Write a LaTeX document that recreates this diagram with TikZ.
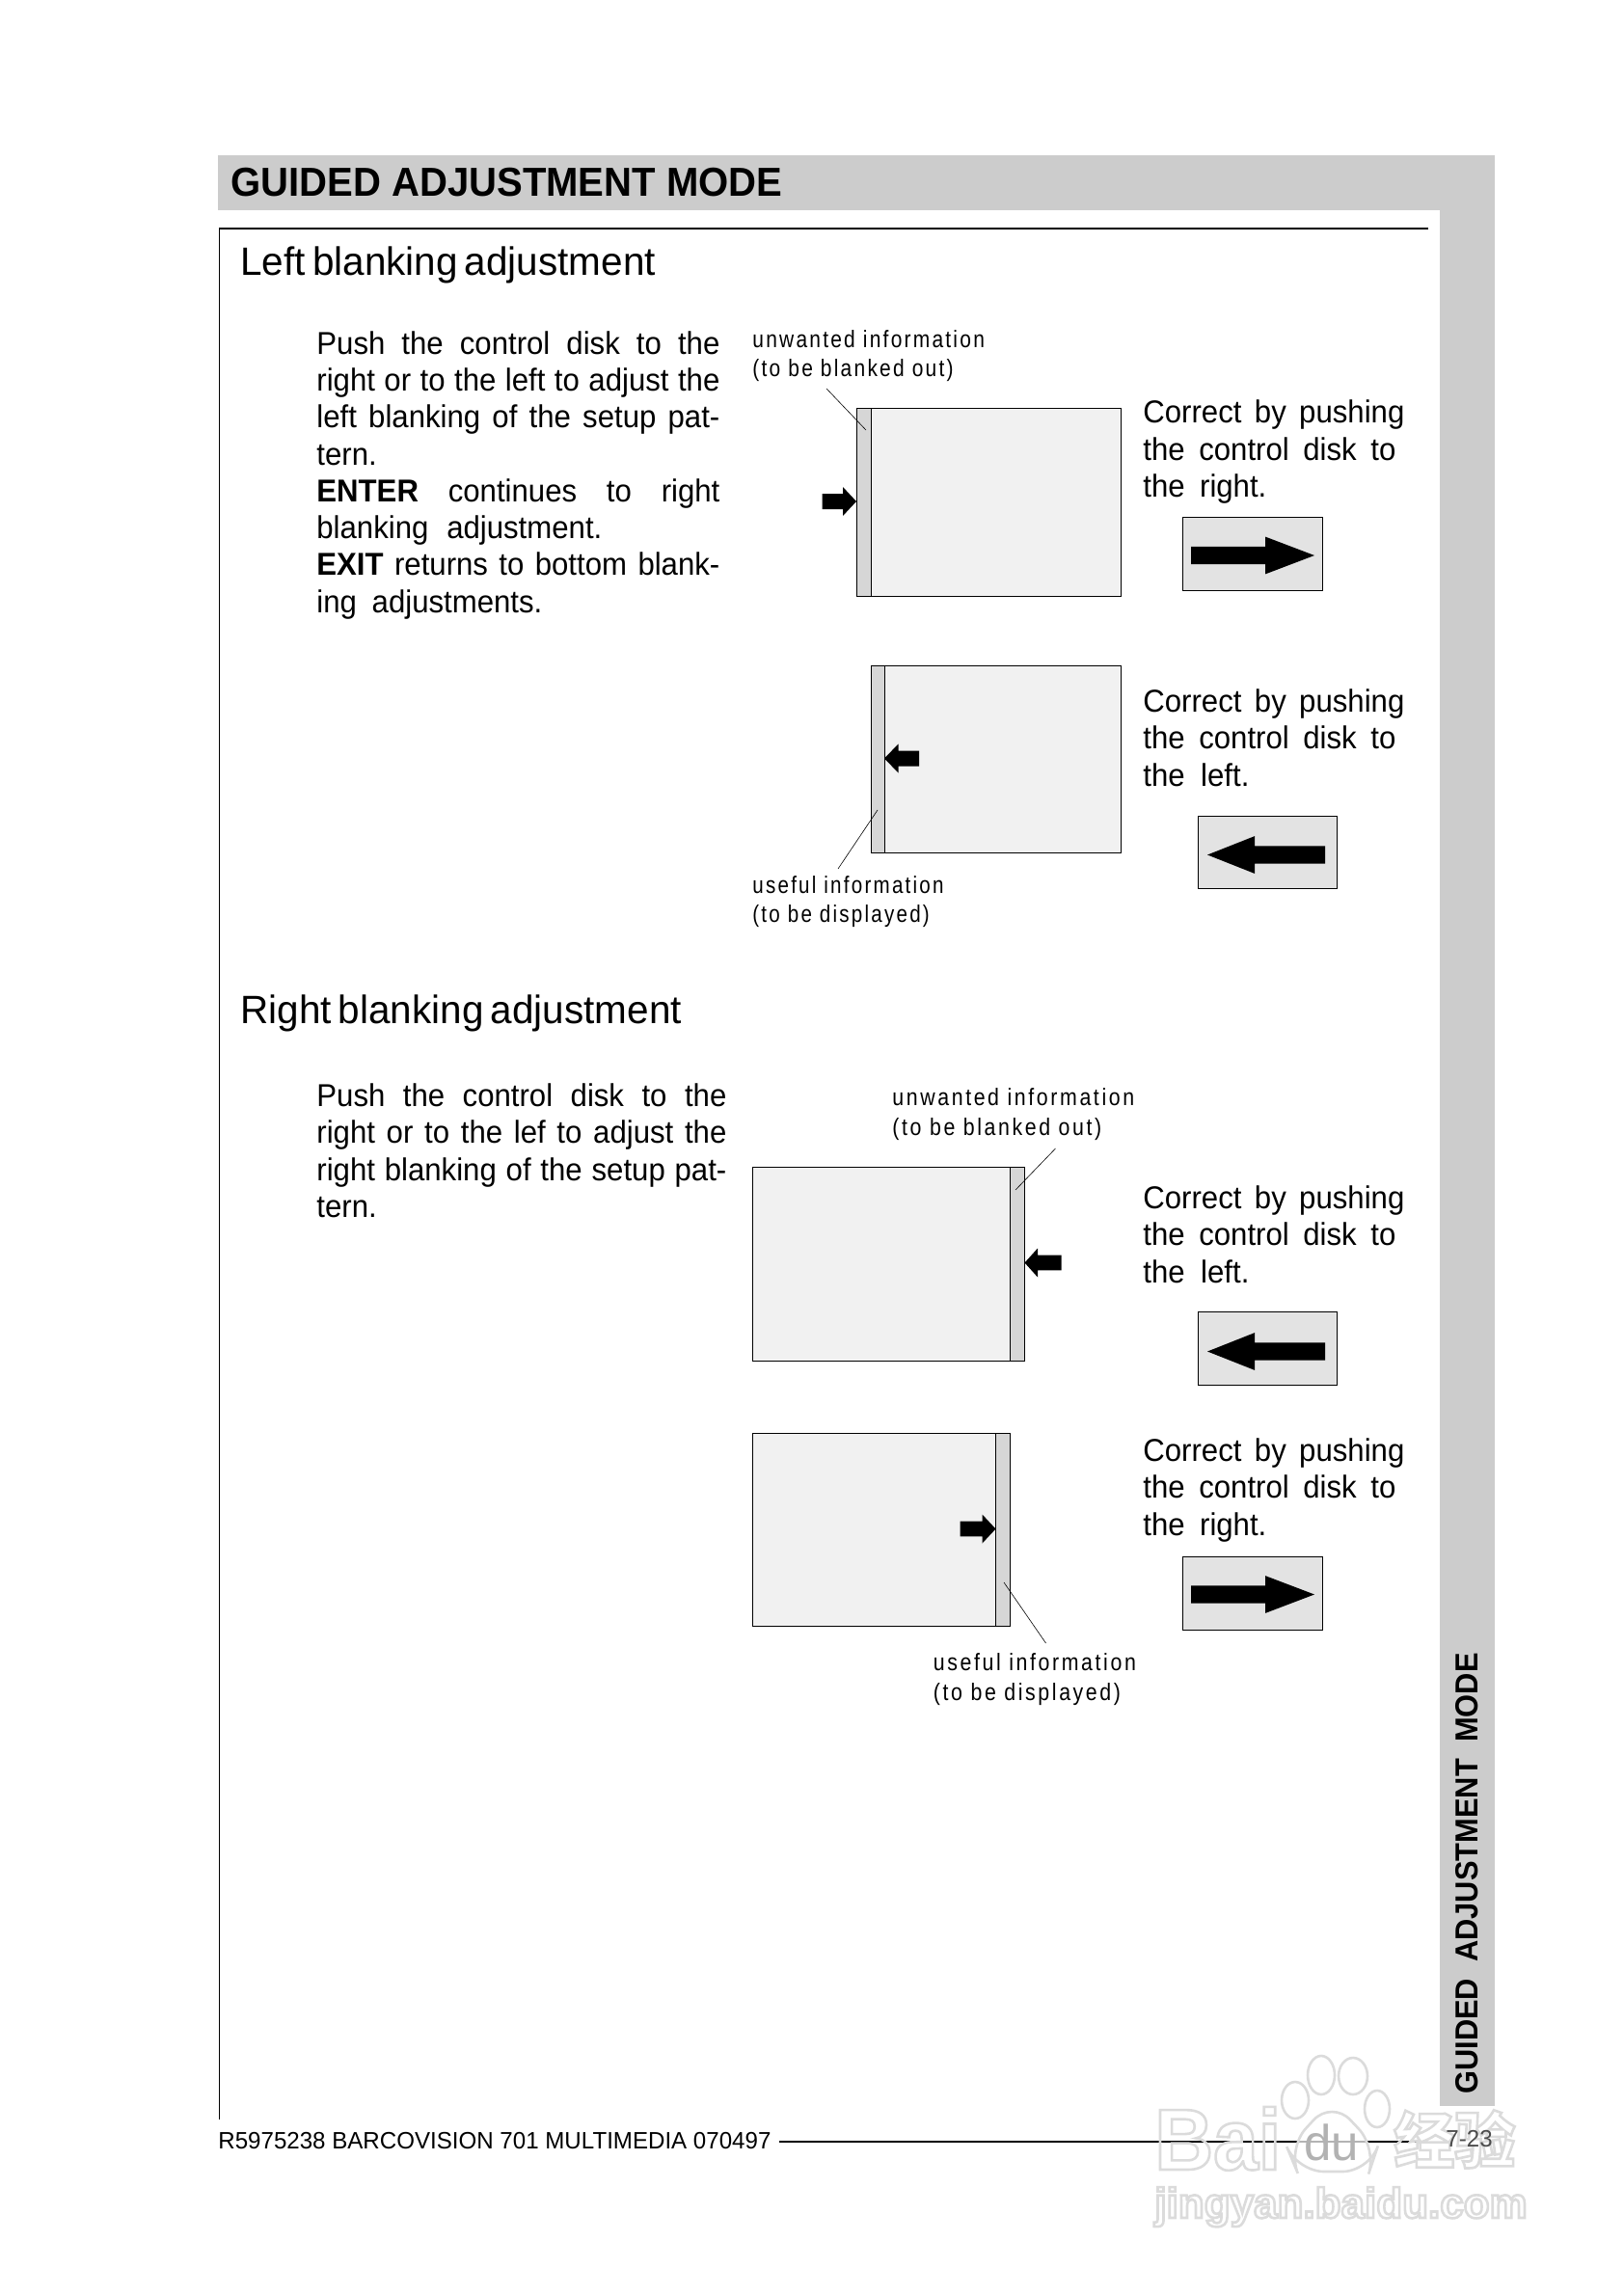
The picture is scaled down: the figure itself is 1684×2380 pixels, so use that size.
\documentclass[tikz,border=0pt]{standalone}
\usepackage{fontspec}
\setmainfont{Liberation Sans}
\newfontfamily\bodyfam{Liberation Sans}[FakeStretch=0.95]
\newfontfamily\titlefam{Liberation Sans}[FakeStretch=0.954]
\newfontfamily\sidefam{Liberation Sans}[FakeStretch=0.934]
\newfontfamily\headfam{Liberation Sans}[FakeStretch=0.987]
\newfontfamily\footfam{Liberation Sans}[FakeStretch=0.98]
\newfontfamily\notefam{Liberation Sans}[FakeStretch=0.845,LetterSpace=9]
\newfontfamily\notefamb{Liberation Sans}[FakeStretch=0.83,LetterSpace=9]
\newfontfamily\notefamc{Liberation Sans}[FakeStretch=0.86,LetterSpace=10.5]
\newfontfamily\cjkfam{Noto Sans CJK SC}
\usetikzlibrary{calc}
\definecolor{band}{gray}{0.80}
\definecolor{screen}{gray}{0.945}
\definecolor{strip}{gray}{0.84}
\definecolor{keybg}{gray}{0.89}
\definecolor{wmline}{gray}{0.86}
\tikzset{x=0.5pt,y=-0.5pt,
 rule/.style={line width=1pt,draw=black},
 thinrule/.style={line width=0.5pt,draw=black},
 screenbox/.style={fill=screen,draw=black,line width=0.5pt},
 stripbox/.style={fill=strip,draw=black,line width=0.5pt},
 keybox/.style={fill=keybg,draw=black,line width=0.5pt},
 leader/.style={draw=black,line width=0.3pt},
 sech/.style={anchor=base west,inner sep=0pt,font=\headfam\fontsize{20.5}{24}\selectfont},
 body/.style={anchor=north west,inner sep=0pt,align=left,font=\bodyfam\fontsize{16.4}{19.15}\selectfont},
 corr/.style={anchor=north west,inner sep=0pt,align=left,font=\bodyfam\fontsize{16.4}{19.25}\selectfont},
 note/.style={anchor=north west,inner sep=0pt,align=left,font=\notefam\fontsize{12.4}{15.2}\selectfont},
 noteb/.style={note,font=\notefamb\fontsize{12.4}{15.2}\selectfont},
 notec/.style={note,font=\notefamc\fontsize{12.4}{15.2}\selectfont},
 wmtext/.style={anchor=base west,inner sep=0pt},
}
% line set to an exact width in pixels (0.5pt each)
\newcommand{\wl}[2]{\makebox[#1pt][s]{#2}}
% arrow: tip x, centre y, tail x, head base x, head half height, shaft half height
\newcommand{\blockarrow}[6]{%
 \fill[black] (#1,#2) -- (#4,#2-#5) -- (#4,#2-#6) -- (#3,#2-#6) -- (#3,#2+#6) -- (#4,#2+#6) -- (#4,#2+#5) -- cycle;}
% outlined watermark text
\newcommand{\outl}[2]{\special{pdf:code q 1 Tr #1 G 1.3 w}#2\special{pdf:code Q}}
\begin{document}
\begin{tikzpicture}
\useasboundingbox (0,0) rectangle (1684,2380);
\fill[white] (0,0) rectangle (1684,2380);
% page bands
\fill[band] (226,161) rectangle (1550,218);
\fill[band] (1493,218) rectangle (1550,2184);
\node[anchor=base west,inner sep=0pt,font=\titlefam\fontsize{21}{24}\selectfont\bfseries] (title) at (239,204) {GUIDED ADJUSTMENT MODE};
\draw[rule] (1481,237) -- (227,237);
\draw[thinrule] (227,237) -- (227,2198);
\node[anchor=base west,inner sep=0pt,font=\sidefam\fontsize{16.5}{18}\selectfont\bfseries,rotate=90] (sidet) at (1532,2172) {GUIDED\ \ ADJUSTMENT\ \ MODE};
% footer
\node[anchor=base west,inner sep=0pt,font=\footfam\fontsize{12.3}{15}\selectfont] (foot) at (226,2228) {R5975238 BARCOVISION 701 MULTIMEDIA 070497};
\coordinate (footstart) at (808,2221);
\coordinate (footend) at (1475,2221);
\draw[rule] (footstart) -- (footend);
% watermark
\node[wmtext,font=\sidefam\fontsize{45}{50}\selectfont\bfseries] (wmBai) at (1197,2250) {\outl{0.86}{Bai}};
\node[wmtext,font=\cjkfam\fontsize{31.5}{36}\selectfont\bfseries] (wmjy) at (1445,2243) {\outl{0.86}{经验}};
\node[wmtext,font=\fontsize{22}{26}\selectfont\bfseries] (wmurl) at (1197,2300) {\outl{0.86}{jingyan.baidu.com}};
\foreach \px/\py/\rx/\ry in {1370/2152/14/20,1403/2153/15/19,1343/2178/14/19,1428/2187/13/19}
 \draw[wmline,line width=1.3pt,fill=white,fill opacity=0.7] (\px,\py) ellipse [x radius=\rx,y radius=\ry];
\draw[wmline,line width=1.3pt,fill=white,fill opacity=0.7,rounded corners=14pt]
 (1381,2178) -- (1428,2228) -- (1420,2252) -- (1345,2252) -- (1335,2228) -- cycle;
\node[wmtext,font=\footfam\fontsize{26}{30}\selectfont,text=black!30] (du) at (1352,2240) {du};
% page number
\node[anchor=base west,inner sep=0pt,font=\footfam\fontsize{12.3}{15}\selectfont,text=black!70] (pg) at (1499,2226) {7-23};
% section heads
\node[sech] (h1) at (249,286) {Left\hspace{-0.1em} blanking\hspace{-0.1em} adjustment};
\node[sech] (h2) at (249,1061) {Right\hspace{-0.1em} blanking\hspace{-0.1em} adjustment};
% body texts
\node[body] (b1) at (328,343) {\wl{209}{Push the control disk to the}\\\wl{209}{right or to the left to adjust the}\\\wl{209}{left blanking of the setup pat-}\\tern.\\\wl{209}{\textbf{ENTER} continues to right}\\\wl{148}{blanking adjustment.}\\\wl{209}{\textbf{EXIT} returns to bottom blank-}\\\wl{117}{ing adjustments.}};
\node[body] (b2) at (328,1123.5) {\wl{212.5}{Push the control disk to the}\\\wl{212.5}{right or to the lef to adjust the}\\\wl{212.5}{right blanking of the setup pat-}\\tern.};
% diagram 1
\draw[screenbox] (888,424) rectangle (1162,618);
\draw[stripbox] (888,424) rectangle (903.5,618);
\node[note] (n1) at (780,342) {unwanted information\\(to be blanked out)};
\coordinate (n1a) at (857,403); \coordinate (n1b) at (898,446);
\draw[leader] (n1a) -- (n1b);
\blockarrow{888}{520}{852.5}{874}{15}{8}
\draw[keybox] (1226,536) rectangle (1371.5,612);
\blockarrow{1363}{576}{1235}{1312}{19.4}{9.2}
\node[corr] (c1) at (1185,414.5) {\wl{135.5}{Correct by pushing}\\\wl{131}{the control disk to}\\\wl{64}{the right.}};
% diagram 2
\draw[screenbox] (903.5,690) rectangle (1162,884.5);
\draw[stripbox] (903.5,690) rectangle (917,884.5);
\blockarrow{917}{786.5}{953}{931.5}{15}{8}
\node[noteb] (n2) at (780,908) {useful information\\(to be displayed)};
\coordinate (n2a) at (869,901); \coordinate (n2b) at (910,840);
\draw[leader] (n2a) -- (n2b);
\draw[keybox] (1242.5,846.5) rectangle (1386.5,921);
\blockarrow{1252}{886.5}{1374}{1301}{19.4}{9.2}
\node[corr] (c2) at (1185,714) {\wl{135.5}{Correct by pushing}\\\wl{131}{the control disk to}\\\wl{55}{the left.}};
% diagram 3
\draw[screenbox] (780,1210) rectangle (1062.5,1411);
\draw[stripbox] (1047,1210) rectangle (1062.5,1411);
\blockarrow{1062.5}{1309.5}{1100.5}{1076}{15}{7.8}
\node[notec] (n3) at (925,1128.5) {unwanted information\\(to be blanked out)};
\coordinate (n3a) at (1094.5,1191); \coordinate (n3b) at (1053,1234);
\draw[leader] (n3a) -- (n3b);
\draw[keybox] (1242.5,1360) rectangle (1386.5,1436);
\blockarrow{1252}{1401.5}{1374}{1301}{19.4}{9.2}
\node[corr] (c3) at (1185,1229) {\wl{135.5}{Correct by pushing}\\\wl{131}{the control disk to}\\\wl{55}{the left.}};
% diagram 4
\draw[screenbox] (780,1486) rectangle (1047,1686);
\draw[stripbox] (1032.5,1486) rectangle (1047,1686);
\blockarrow{1032.5}{1585.5}{995.5}{1018.5}{15}{7.8}
\node[notec] (n4) at (967.5,1714.5) {useful information\\(to be displayed)};
\coordinate (n4a) at (1084.5,1704); \coordinate (n4b) at (1041,1641);
\draw[leader] (n4a) -- (n4b);
\draw[keybox] (1226,1614.5) rectangle (1371.5,1690);
\blockarrow{1363}{1653.5}{1235}{1312}{19.4}{9.2}
\node[corr] (c4) at (1185,1491) {\wl{135.5}{Correct by pushing}\\\wl{131}{the control disk to}\\\wl{64}{the right.}};
\end{tikzpicture}
\end{document}
